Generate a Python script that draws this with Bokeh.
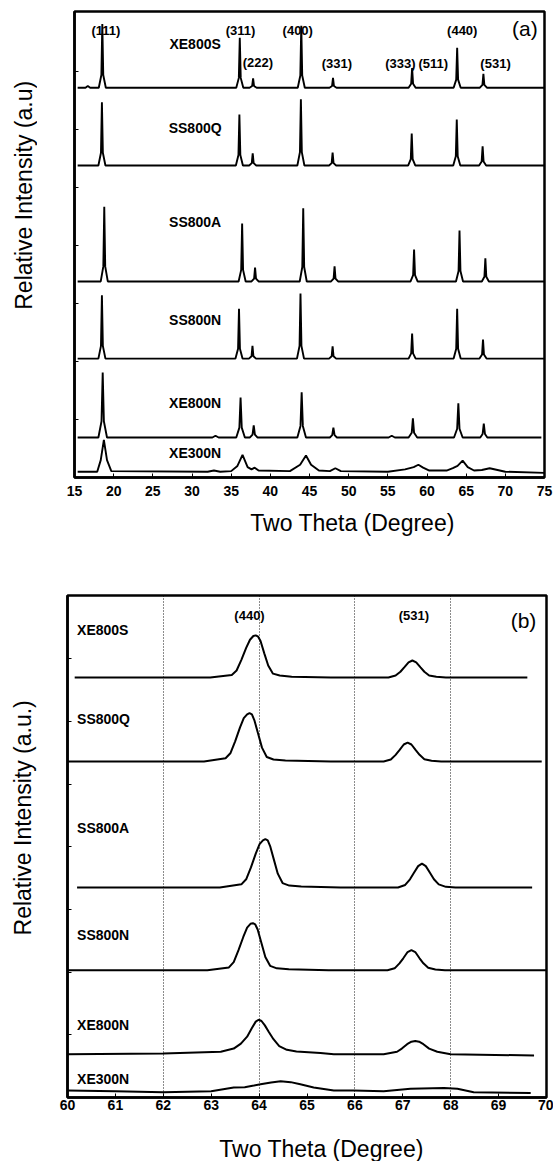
import math
import numpy as np
from bokeh.plotting import figure
from bokeh.models import Range1d, FixedTicker, ColumnDataSource
from bokeh.layouts import column, row
from bokeh.core.properties import value
from bokeh.embed import file_html
from bokeh.resources import INLINE

# ---------------- data ----------------
samples = ["XE800S", "SS800Q", "SS800A", "SS800N", "XE800N", "XE300N"]
offsets_a = [6.72, 5.38, 3.38, 2.05, 0.69, 0.10]
offsets_b = [6.70, 5.36, 3.35, 2.03, 0.69, 0.10]

hkl_a = ["(111)", "(311)", "(222)", "(400)", "(331)", "(333)", "(511)", "(440)", "(531)"]
hkl_b = ["(440)", "(531)"]

ticks_a = [15, 20, 25, 30, 35, 40, 45, 50, 55, 60, 65, 70, 75]
ticks_b = [60, 61, 62, 63, 64, 65, 66, 67, 68, 69, 70]
ref_lines_b = [62, 64, 66, 68]

# panel (a) traces: two-theta and relative intensity above each baseline
xe800s_a_x = [15.4, 16.4, 16.7, 17.0, 18.1, 18.43, 18.55, 18.67, 19.0, 35.65, 35.98, 36.1, 36.22, 36.55,
              37.35, 37.68, 37.8, 37.92, 38.25, 43.5, 43.83, 43.95, 44.07, 44.4, 47.55, 47.88, 48.0, 48.12,
              48.45, 57.65, 57.98, 58.1, 58.22, 58.55, 63.4, 63.73, 63.85, 63.97, 64.3, 66.75, 67.08, 67.2,
              67.32, 67.65, 75.0]
xe800s_a_y = [0, 0, 0.03, 0, 0, 0.22, 1.10, 0.22, 0, 0, 0.17, 0.86, 0.17, 0,
              0, 0.03, 0.16, 0.03, 0, 0, 0.21, 1.07, 0.21, 0, 0, 0.03, 0.17, 0.03,
              0, 0, 0.07, 0.34, 0.07, 0, 0, 0.14, 0.69, 0.14, 0, 0, 0.05, 0.24,
              0.05, 0, 0]

ss800q_a_x = [15.4, 18.05, 18.38, 18.5, 18.62, 18.95, 35.6, 35.93, 36.05, 36.17, 36.5, 37.3, 37.63, 37.75,
              37.87, 38.2, 43.45, 43.78, 43.9, 44.02, 44.35, 47.5, 47.83, 47.95, 48.07, 48.4, 57.6, 57.93,
              58.05, 58.17, 58.5, 63.35, 63.68, 63.8, 63.92, 64.25, 66.65, 66.98, 67.1, 67.22, 67.55, 75.0]
ss800q_a_y = [0, 0, 0.22, 1.09, 0.22, 0, 0, 0.18, 0.88, 0.18, 0, 0, 0.04, 0.21,
              0.04, 0, 0, 0.23, 1.14, 0.23, 0, 0, 0.04, 0.22, 0.04, 0, 0, 0.11,
              0.55, 0.11, 0, 0, 0.16, 0.79, 0.16, 0, 0, 0.07, 0.33, 0.07, 0, 0]

ss800a_a_x = [15.4, 18.35, 18.68, 18.8, 18.92, 19.25, 35.95, 36.28, 36.4, 36.52, 36.85, 37.6, 37.93, 38.05,
              38.17, 38.5, 43.75, 44.08, 44.2, 44.32, 44.65, 47.75, 48.08, 48.2, 48.32, 48.65, 57.9, 58.23,
              58.35, 58.47, 58.8, 63.7, 64.03, 64.15, 64.27, 64.6, 67.0, 67.33, 67.45, 67.57, 67.9, 75.0]
ss800a_a_y = [0, 0, 0.26, 1.29, 0.26, 0, 0, 0.2, 1.0, 0.2, 0, 0, 0.05, 0.24,
              0.05, 0, 0, 0.25, 1.26, 0.25, 0, 0, 0.05, 0.26, 0.05, 0, 0, 0.11,
              0.55, 0.11, 0, 0, 0.18, 0.88, 0.18, 0, 0, 0.08, 0.40, 0.08, 0, 0]

ss800n_a_x = [15.4, 18.05, 18.38, 18.5, 18.62, 18.95, 35.55, 35.88, 36.0, 36.12, 36.45, 37.27, 37.6, 37.72,
              37.84, 38.17, 43.4, 43.73, 43.85, 43.97, 44.3, 47.5, 47.83, 47.95, 48.07, 48.4, 57.65, 57.98,
              58.1, 58.22, 58.55, 63.4, 63.73, 63.85, 63.97, 64.3, 66.7, 67.03, 67.15, 67.27, 67.6, 75.0]
ss800n_a_y = [0, 0, 0.22, 1.09, 0.22, 0, 0, 0.17, 0.86, 0.17, 0, 0, 0.04, 0.22,
              0.04, 0, 0, 0.22, 1.12, 0.22, 0, 0, 0.04, 0.21, 0.04, 0, 0, 0.09,
              0.43, 0.09, 0, 0, 0.17, 0.86, 0.17, 0, 0, 0.07, 0.33, 0.07, 0, 0]

xe800n_a_x = [15.4, 18.05, 18.45, 18.6, 18.75, 19.15, 32.6, 33.0, 33.4, 35.65, 36.05, 36.2, 36.35, 36.75,
              37.4, 37.73, 37.88, 38.03, 38.35, 43.45, 43.85, 44.0, 44.15, 44.55, 47.6, 47.9, 48.05, 48.2,
              48.5, 55.1, 55.5, 55.9, 57.65, 58.05, 58.2, 58.35, 58.75, 63.45, 63.85, 64.0, 64.15, 64.55,
              66.8, 67.1, 67.25, 67.4, 67.7, 74.6]
xe800n_a_y = [0, 0, 0.28, 1.12, 0.28, 0, 0, 0.03, 0, 0, 0.17, 0.69, 0.17, 0,
              0, 0.05, 0.21, 0.05, 0, 0, 0.2, 0.78, 0.2, 0, 0, 0.04, 0.17, 0.04,
              0, 0, 0.03, 0, 0, 0.08, 0.33, 0.08, 0, 0, 0.15, 0.59, 0.15, 0,
              0, 0.06, 0.24, 0.06, 0, 0]

xe300n_a_x = [15.4, 17.9, 18.35, 18.75, 19.15, 19.7, 32.0, 32.8, 33.6, 35.0, 35.8, 36.45, 37.1, 37.6,
              38.0, 38.5, 42.5, 43.8, 44.55, 45.2, 46.2, 47.6, 48.3, 49.0, 55.0, 57.2, 58.3, 58.9,
              59.5, 60.3, 62.5, 63.3, 63.9, 64.55, 65.2, 66.0, 67.0, 68.0, 69.0, 70.0, 75.0]
xe300n_a_y = [0, 0, 0.2, 0.55, 0.2, 0.01, 0, 0.02, 0, 0.01, 0.1, 0.29, 0.08, 0.04,
              0.07, 0.02, 0.01, 0.12, 0.28, 0.12, 0.02, 0.01, 0.06, 0.01, 0.0, 0.04, 0.08, 0.12,
              0.07, 0.02, 0.02, 0.06, 0.1, 0.19, 0.08, 0.02, 0.03, 0.06, 0.03, 0.0, -0.02]

# panel (b) traces
xe800s_b_x = [60.15, 62.98, 63.43, 63.53, 63.63, 63.73, 63.81, 63.88, 63.93, 63.98, 64.03, 64.11, 64.19,
              64.29, 64.43, 64.68, 65.5, 66.7, 66.85, 66.95, 67.03, 67.12, 67.2, 67.28, 67.37, 67.45,
              67.55, 67.7, 67.9, 69.6]
xe800s_b_y = [0, 0, 0.04, 0.11, 0.28, 0.47, 0.60, 0.66, 0.67, 0.65, 0.58, 0.38, 0.19,
              0.06, 0.03, 0.01, 0, 0, 0.03, 0.09, 0.16, 0.24, 0.27, 0.24, 0.16, 0.09,
              0.03, 0.01, 0, 0]

ss800q_b_x = [60.0, 62.85, 63.3, 63.4, 63.5, 63.6, 63.68, 63.75, 63.8, 63.85, 63.9, 63.98, 64.06,
              64.16, 64.3, 64.55, 65.5, 66.6, 66.75, 66.85, 66.93, 67.02, 67.1, 67.18, 67.27, 67.35,
              67.45, 67.6, 67.8, 69.9]
ss800q_b_y = [0, 0, 0.05, 0.13, 0.32, 0.54, 0.69, 0.75, 0.77, 0.75, 0.66, 0.44, 0.22,
              0.07, 0.03, 0.015, 0, 0, 0.03, 0.105, 0.18, 0.27, 0.30, 0.27, 0.18, 0.105,
              0.036, 0.01, 0, 0]

ss800a_b_x = [60.2, 63.18, 63.63, 63.73, 63.83, 63.93, 64.01, 64.08, 64.13, 64.18, 64.23, 64.31, 64.39,
              64.49, 64.63, 64.88, 65.7, 66.9, 67.05, 67.15, 67.23, 67.32, 67.4, 67.48, 67.57, 67.65,
              67.75, 67.9, 68.1, 69.7]
ss800a_b_y = [0, 0, 0.05, 0.13, 0.32, 0.54, 0.69, 0.75, 0.77, 0.75, 0.66, 0.44, 0.22,
              0.07, 0.03, 0.015, 0, 0, 0.04, 0.13, 0.23, 0.34, 0.38, 0.34, 0.23, 0.13,
              0.05, 0.01, 0, 0]

ss800n_b_x = [60.0, 62.92, 63.37, 63.47, 63.57, 63.67, 63.75, 63.82, 63.87, 63.92, 63.97, 64.05, 64.13,
              64.23, 64.37, 64.62, 65.45, 66.68, 66.83, 66.93, 67.01, 67.1, 67.18, 67.26, 67.35, 67.43,
              67.53, 67.68, 67.88, 70.0]
ss800n_b_y = [0, 0, 0.045, 0.13, 0.32, 0.53, 0.68, 0.74, 0.75, 0.73, 0.65, 0.43, 0.21,
              0.07, 0.03, 0.015, 0, 0, 0.03, 0.11, 0.19, 0.29, 0.32, 0.29, 0.19, 0.11,
              0.04, 0.01, 0, 0]

xe800n_b_x = [60.0, 62.0, 63.2, 63.47, 63.62, 63.75, 63.85, 63.93, 63.99, 64.05, 64.12, 64.2, 64.3,
              64.42, 64.58, 64.78, 65.28, 65.56, 66.6, 66.88, 66.98, 67.09, 67.18, 67.26, 67.34, 67.43,
              67.55, 67.72, 68.0, 69.74]
xe800n_b_y = [0, 0.01, 0.04, 0.09, 0.17, 0.28, 0.42, 0.52, 0.55, 0.53, 0.46, 0.36, 0.24,
              0.13, 0.07, 0.045, 0.02, 0, 0, 0.04, 0.09, 0.16, 0.2, 0.21, 0.2, 0.16,
              0.09, 0.04, 0, -0.02]

xe300n_b_x = [60.0, 61.0, 62.0, 63.0, 63.47, 63.7, 63.89, 64.03, 64.25, 64.45, 64.66, 64.86, 65.14,
              65.56, 65.97, 66.6, 67.16, 67.86, 68.14, 68.48, 69.67]
xe300n_b_y = [0.01, 0, -0.015, 0, 0.06, 0.065, 0.09, 0.11, 0.14, 0.16, 0.145, 0.11, 0.06,
              0.01, 0.01, 0, 0.04, 0.05, 0.04, -0.015, -0.03]

traces_a = [(xe800s_a_x, xe800s_a_y), (ss800q_a_x, ss800q_a_y), (ss800a_a_x, ss800a_a_y),
            (ss800n_a_x, ss800n_a_y), (xe800n_a_x, xe800n_a_y), (xe300n_a_x, xe300n_a_y)]
traces_b = [(xe800s_b_x, xe800s_b_y), (ss800q_b_x, ss800q_b_y), (ss800a_b_x, ss800a_b_y),
            (ss800n_b_x, ss800n_b_y), (xe800n_b_x, xe800n_b_y), (xe300n_b_x, xe300n_b_y)]

# ---------------- layout / styling ----------------
FONT = "Liberation Sans"


def base_fig(width, height, xr, yr, left, right, top, bottom, xticks, standoff):
    p = figure(width=width, height=height, x_range=Range1d(*xr), y_range=Range1d(*yr),
               output_backend="svg", toolbar_location=None,
               min_border_left=left, min_border_right=right,
               min_border_top=top, min_border_bottom=bottom)
    p.background_fill_color = "white"
    p.border_fill_color = "white"
    p.outline_line_color = "black"
    p.outline_line_width = 2.5
    p.outline_line_alpha = 1.0
    p.xgrid.visible = False
    p.ygrid.visible = False
    xa = p.xaxis[0]
    xa.ticker = FixedTicker(ticks=xticks)
    xa.major_tick_in = 4
    xa.major_tick_out = 0
    xa.minor_tick_in = 0
    xa.minor_tick_out = 0
    xa.axis_line_width = 2.5
    xa.major_tick_line_width = 1
    xa.major_label_text_font = FONT
    xa.major_label_text_font_style = "bold"
    xa.major_label_text_font_size = "14px"
    xa.major_label_text_color = "black"
    xa.major_label_standoff = standoff
    ya = p.yaxis[0]
    ya.ticker = FixedTicker(ticks=[1, 2, 3, 4, 5, 6, 7])
    ya.major_tick_in = 4
    ya.major_tick_out = 0
    ya.minor_tick_in = 0
    ya.minor_tick_out = 0
    ya.axis_line_width = 2.5
    ya.major_tick_line_width = 1
    ya.major_label_text_font_size = "0px"
    ya.major_label_text_color = None
    ya.major_label_standoff = 0
    return p


def strip(width, height, x, y, text, angle=0.0):
    s = figure(width=width, height=height, x_range=Range1d(0, width), y_range=Range1d(0, height),
               output_backend="svg", toolbar_location=None, min_border=0,
               x_axis_location=None, y_axis_location=None)
    s.outline_line_color = None
    s.background_fill_color = "white"
    s.border_fill_color = "white"
    s.grid.visible = False
    s.text(x=[x], y=[y], text=[text], angle=angle, text_font=value(FONT), text_font_size="23px",
           text_align="center", text_baseline="middle", text_color="black")
    return s


# ---------- panel (a) ----------
pa = base_fig(516, 507, (15, 75), (0, 466 / 58.0), 37, 9, 11, 30, ticks_a, 8)

for (xs, ys), off in zip(traces_a, offsets_a):
    pa.line(xs, np.array(ys) + off, line_color="black", line_width=1.9)

name_src_a = ColumnDataSource(dict(x=[30.4] * 6, y=[7.48, 6.03, 4.40, 2.71, 1.28, 0.43], t=samples))
pa.text(x="x", y="y", text="t", source=name_src_a, text_font=value(FONT), text_font_style="bold",
        text_font_size="14px", text_align="center", text_baseline="middle", text_color="black")

hkl_src_a = ColumnDataSource(dict(x=[19.0, 36.2, 38.4, 43.5, 48.5, 56.6, 60.8, 64.5, 68.75],
                                  y=[7.71, 7.71, 7.15, 7.71, 7.14, 7.14, 7.14, 7.71, 7.14], t=hkl_a))
pa.text(x="x", y="y", text="t", source=hkl_src_a, text_font=value(FONT), text_font_style="bold",
        text_font_size="13px", text_align="center", text_baseline="middle", text_color="black")
pa.text(x=[72.5], y=[7.74], text=["(a)"], text_font=value(FONT), text_font_size="21px",
        text_align="center", text_baseline="middle", text_color="black")

ylab_a = strip(37, 507, 23, 307, "Relative Intensity (a.u)", math.pi / 2)
xlab_a = strip(553, 38, 352, 23, "Two Theta (Degree)")

# ---------- panel (b) ----------
pb = base_fig(516, 578, (60, 70), (0, 502 / 62.7), 30, 7, 50, 26, ticks_b, 2)
pb.xgrid.visible = True
pb.xgrid.ticker = FixedTicker(ticks=ref_lines_b)
pb.xgrid.grid_line_color = "black"
pb.xgrid.grid_line_width = 1
pb.xgrid.grid_line_dash = "1 2"
pb.xgrid.grid_line_alpha = 0.9

for (xs, ys), off in zip(traces_b, offsets_b):
    pb.line(xs, np.array(ys) + off, line_color="black", line_width=2)

name_src_b = ColumnDataSource(dict(x=[60.2] * 6, y=[7.45, 6.04, 4.30, 2.59, 1.16, 0.30], t=samples))
pb.text(x="x", y="y", text="t", source=name_src_b, text_font=value(FONT), text_font_style="bold",
        text_font_size="14px", text_align="left", text_baseline="middle", text_color="black")

hkl_src_b = ColumnDataSource(dict(x=[63.8, 67.23], y=[7.68, 7.68], t=hkl_b))
pb.text(x="x", y="y", text="t", source=hkl_src_b, text_font=value(FONT), text_font_style="bold",
        text_font_size="13px", text_align="center", text_baseline="middle", text_color="black")
pb.text(x=[69.52], y=[7.61], text=["(b)"], text_font=value(FONT), text_font_size="21px",
        text_align="center", text_baseline="middle", text_color="black")

ylab_b = strip(37, 578, 22, 322, "Relative Intensity (a.u.)", math.pi / 2)
xlab_b = strip(553, 38, 321, 13, "Two Theta (Degree)")

layout = column(row(ylab_a, pa, spacing=0), xlab_a, row(ylab_b, pb, spacing=0), xlab_b, spacing=0)
open("out.html", "w").write(file_html(layout, INLINE))
